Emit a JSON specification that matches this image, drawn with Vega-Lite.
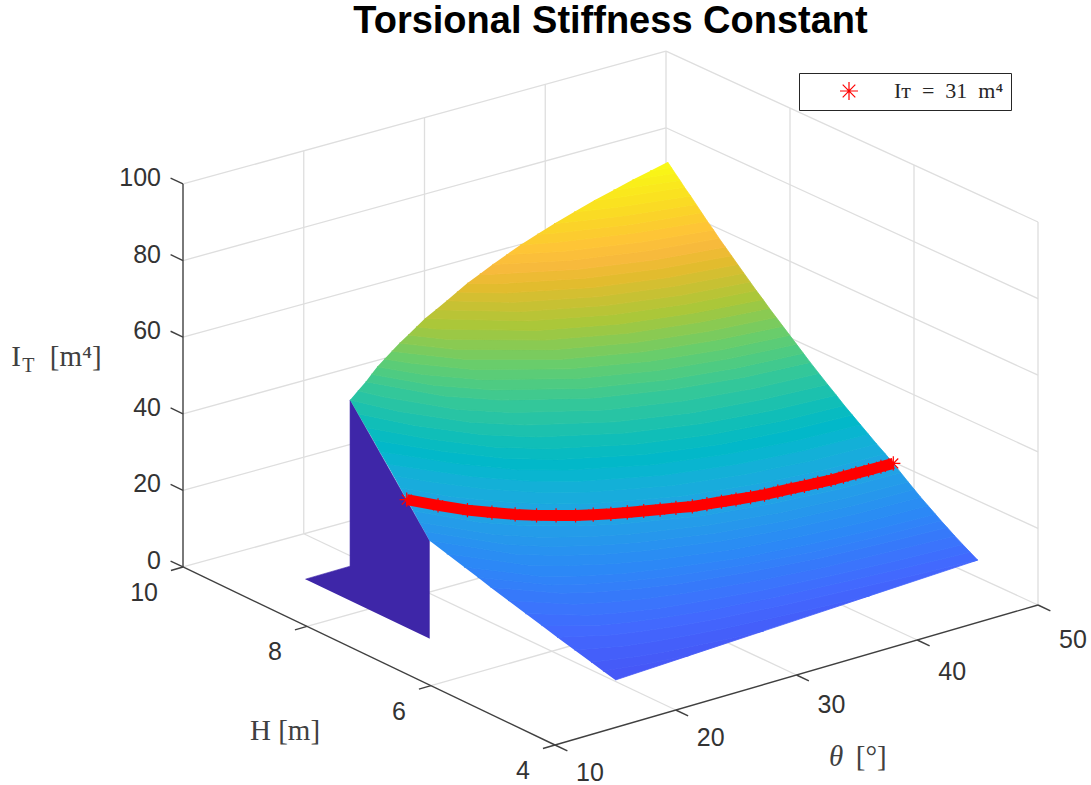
{
"$schema":"https://vega.github.io/schema/vega-lite/v6.json",
"width":1091,"height":785,"padding":0,"autosize":"none","background":"white",
"title":{"text":"Torsional Stiffness Constant","font":"Liberation Sans","fontWeight":"bold","fontSize":38,"color":"#000000","anchor":"middle","frame":"group","offset":0,"dy":71,"dx":65,"baseline":"alphabetic"},
"config":{"view":{"stroke":null}},
"encoding":{
"x":{"field":"sx","type":"quantitative","axis":null,"scale":{"domain":[0,1091],"nice":false,"zero":false}},
"y":{"field":"sy","type":"quantitative","axis":null,"scale":{"domain":[785,0],"nice":false,"zero":false}}
},
"layer":[
{"data":{"values":[
{"t":20,"h":4,"z":0,"t2":20,"h2":10,"z2":0},{"t":30,"h":4,"z":0,"t2":30,"h2":10,"z2":0},{"t":40,"h":4,"z":0,"t2":40,"h2":10,"z2":0},{"t":50,"h":4,"z":0,"t2":50,"h2":10,"z2":0},
{"t":10,"h":6,"z":0,"t2":50,"h2":6,"z2":0},{"t":10,"h":8,"z":0,"t2":50,"h2":8,"z2":0},{"t":10,"h":10,"z":0,"t2":50,"h2":10,"z2":0},
{"t":20,"h":10,"z":0,"t2":20,"h2":10,"z2":100},{"t":30,"h":10,"z":0,"t2":30,"h2":10,"z2":100},{"t":40,"h":10,"z":0,"t2":40,"h2":10,"z2":100},{"t":50,"h":10,"z":0,"t2":50,"h2":10,"z2":100},
{"t":10,"h":10,"z":20,"t2":50,"h2":10,"z2":20},{"t":10,"h":10,"z":40,"t2":50,"h2":10,"z2":40},{"t":10,"h":10,"z":60,"t2":50,"h2":10,"z2":60},{"t":10,"h":10,"z":80,"t2":50,"h2":10,"z2":80},{"t":10,"h":10,"z":100,"t2":50,"h2":10,"z2":100},
{"t":50,"h":4,"z":0,"t2":50,"h2":4,"z2":100},{"t":50,"h":6,"z":0,"t2":50,"h2":6,"z2":100},{"t":50,"h":8,"z":0,"t2":50,"h2":8,"z2":100},
{"t":50,"h":10,"z":20,"t2":50,"h2":4,"z2":20},{"t":50,"h":10,"z":40,"t2":50,"h2":4,"z2":40},{"t":50,"h":10,"z":60,"t2":50,"h2":4,"z2":60},{"t":50,"h":10,"z":80,"t2":50,"h2":4,"z2":80},{"t":50,"h":10,"z":100,"t2":50,"h2":4,"z2":100}
]},
"transform":[
{"calculate":"555+12.075*(datum.t-10)-62*(datum.h-4)","as":"sx"},{"calculate":"745-3.5*(datum.t-10)-29.67*(datum.h-4)-3.83*datum.z+0.03*(datum.t-10)*(datum.h-4)","as":"sy"},
{"calculate":"555+12.075*(datum.t2-10)-62*(datum.h2-4)","as":"sx2"},{"calculate":"745-3.5*(datum.t2-10)-29.67*(datum.h2-4)-3.83*datum.z2+0.03*(datum.t2-10)*(datum.h2-4)","as":"sy2"}],
"mark":{"type":"rule","color":"#dedede","strokeWidth":1.3},
"encoding":{"x2":{"field":"sx2"},"y2":{"field":"sy2"}}},
{"data":{"values":[
{"t":10,"h":10,"z":0,"t2":10,"h2":10,"z2":100},{"t":10,"h":4,"z":0,"t2":10,"h2":10,"z2":0},{"t":10,"h":4,"z":0,"t2":50,"h2":4,"z2":0},
{"t":10,"h":10,"z":0,"t2":10,"h2":10.2,"z2":0},{"t":10,"h":10,"z":20,"t2":10,"h2":10.2,"z2":20},{"t":10,"h":10,"z":40,"t2":10,"h2":10.2,"z2":40},{"t":10,"h":10,"z":60,"t2":10,"h2":10.2,"z2":60},{"t":10,"h":10,"z":80,"t2":10,"h2":10.2,"z2":80},{"t":10,"h":10,"z":100,"t2":10,"h2":10.2,"z2":100},
{"t":10,"h":4,"z":0,"t2":9,"h2":4,"z2":0},{"t":10,"h":6,"z":0,"t2":9,"h2":6,"z2":0},{"t":10,"h":8,"z":0,"t2":9,"h2":8,"z2":0},{"t":10,"h":10,"z":0,"t2":9,"h2":10,"z2":0},
{"t":10,"h":4,"z":0,"t2":10,"h2":3.8,"z2":0},{"t":20,"h":4,"z":0,"t2":20,"h2":3.8,"z2":0},{"t":30,"h":4,"z":0,"t2":30,"h2":3.8,"z2":0},{"t":40,"h":4,"z":0,"t2":40,"h2":3.8,"z2":0},{"t":50,"h":4,"z":0,"t2":50,"h2":3.8,"z2":0}
]},
"transform":[
{"calculate":"555+12.075*(datum.t-10)-62*(datum.h-4)","as":"sx"},{"calculate":"745-3.5*(datum.t-10)-29.67*(datum.h-4)-3.83*datum.z","as":"sy"},
{"calculate":"555+12.075*(datum.t2-10)-62*(datum.h2-4)","as":"sx2"},{"calculate":"745-3.5*(datum.t2-10)-29.67*(datum.h2-4)-3.83*datum.z2","as":"sy2"}],
"mark":{"type":"rule","color":"#404040","strokeWidth":1.4},
"encoding":{"x2":{"field":"sx2"},"y2":{"field":"sy2"}}},
{"data":{"values":[
{"part":"wall","o":1,"t":15,"h":9,"z":0},{"part":"wall","o":2,"t":18.7,"h":9,"z":0},{"part":"wall","o":3,"t":18.7,"h":9,"z":43.4},{"part":"wall","o":4,"t":15,"h":7,"z":25.6},{"part":"wall","o":5,"t":15,"h":7,"z":0}
]},
"transform":[{"calculate":"555+12.075*(datum.t-10)-62*(datum.h-4)","as":"sx"},{"calculate":"745-3.5*(datum.t-10)-29.67*(datum.h-4)-3.83*datum.z","as":"sy"}],
"mark":{"type":"line","fill":"#3e26a8","stroke":"#3e26a8","strokeWidth":0.6},
"encoding":{"detail":{"field":"part"},"order":{"field":"o","type":"quantitative"}}},
{"data":{"values":[
{"k":0,"t":15,"h":4,"z":12.4},
{"k":1,"t":15,"h":4.2,"z":13.2},{"k":1,"t":18,"h":4.08,"z":13.2},{"k":1,"t":20,"h":4.03,"z":13.2},{"k":1,"t":21.15,"h":4,"z":13.2},
{"k":2,"t":15,"h":4.39,"z":14},{"k":2,"t":18,"h":4.23,"z":14},{"k":2,"t":20,"h":4.16,"z":14},{"k":2,"t":22.5,"h":4.1,"z":14},{"k":2,"t":25,"h":4.04,"z":14},{"k":2,"t":27.3,"h":4,"z":14},
{"k":3,"t":15,"h":4.66,"z":15.15},{"k":3,"t":18,"h":4.44,"z":15.15},{"k":3,"t":20,"h":4.35,"z":15.15},{"k":3,"t":22.5,"h":4.27,"z":15.15},{"k":3,"t":25,"h":4.2,"z":15.15},{"k":3,"t":30,"h":4.1,"z":15.15},{"k":3,"t":36.15,"h":4,"z":15.15},
{"k":4,"t":15,"h":4.94,"z":16.3},{"k":4,"t":18,"h":4.66,"z":16.3},{"k":4,"t":20,"h":4.55,"z":16.3},{"k":4,"t":22.5,"h":4.44,"z":16.3},{"k":4,"t":25,"h":4.36,"z":16.3},{"k":4,"t":30,"h":4.24,"z":16.3},{"k":4,"t":35,"h":4.15,"z":16.3},{"k":4,"t":40,"h":4.07,"z":16.3},{"k":4,"t":45,"h":4,"z":16.3},
{"k":5,"t":15,"h":5.19,"z":17.4},{"k":5,"t":18,"h":4.85,"z":17.4},{"k":5,"t":20,"h":4.72,"z":17.4},{"k":5,"t":22.5,"h":4.6,"z":17.4},{"k":5,"t":25,"h":4.5,"z":17.4},{"k":5,"t":30,"h":4.37,"z":17.4},{"k":5,"t":35,"h":4.27,"z":17.4},{"k":5,"t":40,"h":4.19,"z":17.4},{"k":5,"t":45,"h":4.12,"z":17.4},
{"k":6,"t":15,"h":5.45,"z":18.5},{"k":6,"t":18,"h":5.04,"z":18.5},{"k":6,"t":20,"h":4.89,"z":18.5},{"k":6,"t":22.5,"h":4.75,"z":18.5},{"k":6,"t":25,"h":4.65,"z":18.5},{"k":6,"t":30,"h":4.49,"z":18.5},{"k":6,"t":35,"h":4.38,"z":18.5},{"k":6,"t":40,"h":4.3,"z":18.5},{"k":6,"t":45,"h":4.24,"z":18.5},
{"k":7,"t":15,"h":5.73,"z":19.75},{"k":7,"t":18,"h":5.25,"z":19.75},{"k":7,"t":20,"h":5.08,"z":19.75},{"k":7,"t":22.5,"h":4.92,"z":19.75},{"k":7,"t":25,"h":4.8,"z":19.75},{"k":7,"t":30,"h":4.63,"z":19.75},{"k":7,"t":35,"h":4.5,"z":19.75},{"k":7,"t":40,"h":4.43,"z":19.75},{"k":7,"t":45,"h":4.37,"z":19.75},
{"k":8,"t":15,"h":6.01,"z":21},{"k":8,"t":18,"h":5.46,"z":21},{"k":8,"t":20,"h":5.27,"z":21},{"k":8,"t":22.5,"h":5.09,"z":21},{"k":8,"t":25,"h":4.95,"z":21},{"k":8,"t":30,"h":4.76,"z":21},{"k":8,"t":35,"h":4.63,"z":21},{"k":8,"t":40,"h":4.55,"z":21},{"k":8,"t":45,"h":4.49,"z":21},
{"k":9,"t":15,"h":6.22,"z":22},{"k":9,"t":18,"h":5.61,"z":22},{"k":9,"t":20,"h":5.41,"z":22},{"k":9,"t":22.5,"h":5.22,"z":22},{"k":9,"t":25,"h":5.07,"z":22},{"k":9,"t":30,"h":4.86,"z":22},{"k":9,"t":35,"h":4.72,"z":22},{"k":9,"t":40,"h":4.64,"z":22},{"k":9,"t":45,"h":4.59,"z":22},
{"k":10,"t":15,"h":6.44,"z":23},{"k":10,"t":18,"h":5.77,"z":23},{"k":10,"t":20,"h":5.55,"z":23},{"k":10,"t":22.5,"h":5.34,"z":23},{"k":10,"t":25,"h":5.19,"z":23},{"k":10,"t":30,"h":4.96,"z":23},{"k":10,"t":35,"h":4.82,"z":23},{"k":10,"t":40,"h":4.73,"z":23},{"k":10,"t":45,"h":4.68,"z":23},
{"k":11,"t":15,"h":6.72,"z":24.3},{"k":11,"t":18,"h":5.98,"z":24.3},{"k":11,"t":20,"h":5.73,"z":24.3},{"k":11,"t":22.5,"h":5.5,"z":24.3},{"k":11,"t":25,"h":5.33,"z":24.3},{"k":11,"t":30,"h":5.08,"z":24.3},{"k":11,"t":35,"h":4.93,"z":24.3},{"k":11,"t":40,"h":4.84,"z":24.3},{"k":11,"t":45,"h":4.8,"z":24.3},
{"k":12,"t":15,"h":7,"z":25.6},{"k":12,"t":18,"h":6.18,"z":25.6},{"k":12,"t":20,"h":5.9,"z":25.6},{"k":12,"t":22.5,"h":5.65,"z":25.6},{"k":12,"t":25,"h":5.47,"z":25.6},{"k":12,"t":30,"h":5.21,"z":25.6},{"k":12,"t":35,"h":5.05,"z":25.6},{"k":12,"t":40,"h":4.96,"z":25.6},{"k":12,"t":45,"h":4.92,"z":25.6},
{"k":13,"t":15.22,"h":7.12,"z":26.8},{"k":13,"t":18,"h":6.36,"z":26.8},{"k":13,"t":20,"h":6.05,"z":26.8},{"k":13,"t":22.5,"h":5.79,"z":26.8},{"k":13,"t":25,"h":5.6,"z":26.8},{"k":13,"t":30,"h":5.32,"z":26.8},{"k":13,"t":35,"h":5.15,"z":26.8},{"k":13,"t":40,"h":5.06,"z":26.8},{"k":13,"t":45,"h":5.02,"z":26.8},
{"k":14,"t":15.44,"h":7.25,"z":28},{"k":14,"t":18,"h":6.54,"z":28},{"k":14,"t":20,"h":6.21,"z":28},{"k":14,"t":22.5,"h":5.93,"z":28},{"k":14,"t":25,"h":5.72,"z":28},{"k":14,"t":30,"h":5.43,"z":28},{"k":14,"t":35,"h":5.26,"z":28},{"k":14,"t":40,"h":5.16,"z":28},{"k":14,"t":45,"h":5.12,"z":28},
{"k":15,"t":15.72,"h":7.4,"z":29.5},{"k":15,"t":18,"h":6.75,"z":29.5},{"k":15,"t":20,"h":6.4,"z":29.5},{"k":15,"t":22.5,"h":6.1,"z":29.5},{"k":15,"t":25,"h":5.87,"z":29.5},{"k":15,"t":30,"h":5.55,"z":29.5},{"k":15,"t":35,"h":5.37,"z":29.5},{"k":15,"t":40,"h":5.27,"z":29.5},{"k":15,"t":45,"h":5.24,"z":29.5},
{"k":16,"t":16,"h":7.56,"z":31},{"k":16,"t":18,"h":6.97,"z":31},{"k":16,"t":20,"h":6.59,"z":31},{"k":16,"t":22.5,"h":6.26,"z":31},{"k":16,"t":25,"h":6.02,"z":31},{"k":16,"t":30,"h":5.68,"z":31},{"k":16,"t":35,"h":5.49,"z":31},{"k":16,"t":40,"h":5.39,"z":31},{"k":16,"t":45,"h":5.36,"z":31},
{"k":17,"t":16.32,"h":7.73,"z":32.5},{"k":17,"t":18,"h":7.24,"z":32.5},{"k":17,"t":20,"h":6.82,"z":32.5},{"k":17,"t":22.5,"h":6.45,"z":32.5},{"k":17,"t":25,"h":6.19,"z":32.5},{"k":17,"t":30,"h":5.84,"z":32.5},{"k":17,"t":35,"h":5.64,"z":32.5},{"k":17,"t":40,"h":5.53,"z":32.5},{"k":17,"t":45,"h":5.49,"z":32.5},
{"k":18,"t":16.65,"h":7.9,"z":34},{"k":18,"t":18,"h":7.52,"z":34},{"k":18,"t":20,"h":7.06,"z":34},{"k":18,"t":22.5,"h":6.65,"z":34},{"k":18,"t":25,"h":6.37,"z":34},{"k":18,"t":30,"h":6,"z":34},{"k":18,"t":35,"h":5.79,"z":34},{"k":18,"t":40,"h":5.67,"z":34},{"k":18,"t":45,"h":5.63,"z":34},
{"k":19,"t":16.97,"h":8.07,"z":35.5},{"k":19,"t":18,"h":7.79,"z":35.5},{"k":19,"t":20,"h":7.29,"z":35.5},{"k":19,"t":22.5,"h":6.84,"z":35.5},{"k":19,"t":25,"h":6.54,"z":35.5},{"k":19,"t":30,"h":6.15,"z":35.5},{"k":19,"t":35,"h":5.93,"z":35.5},{"k":19,"t":40,"h":5.81,"z":35.5},{"k":19,"t":45,"h":5.76,"z":35.5},
{"k":20,"t":17.3,"h":8.25,"z":37},{"k":20,"t":18,"h":8.07,"z":37},{"k":20,"t":20,"h":7.52,"z":37},{"k":20,"t":22.5,"h":7.03,"z":37},{"k":20,"t":25,"h":6.72,"z":37},{"k":20,"t":30,"h":6.31,"z":37},{"k":20,"t":35,"h":6.08,"z":37},{"k":20,"t":40,"h":5.95,"z":37},{"k":20,"t":45,"h":5.89,"z":37},
{"k":21,"t":17.63,"h":8.42,"z":38.5},{"k":21,"t":18,"h":8.3,"z":38.5},{"k":21,"t":20,"h":7.74,"z":38.5},{"k":21,"t":22.5,"h":7.21,"z":38.5},{"k":21,"t":25,"h":6.88,"z":38.5},{"k":21,"t":30,"h":6.46,"z":38.5},{"k":21,"t":35,"h":6.21,"z":38.5},{"k":21,"t":40,"h":6.08,"z":38.5},{"k":21,"t":45,"h":6.02,"z":38.5},
{"k":22,"t":17.96,"h":8.6,"z":40},{"k":22,"t":20,"h":7.97,"z":40},{"k":22,"t":22.5,"h":7.4,"z":40},{"k":22,"t":25,"h":7.05,"z":40},{"k":22,"t":30,"h":6.61,"z":40},{"k":22,"t":35,"h":6.35,"z":40},{"k":22,"t":40,"h":6.21,"z":40},{"k":22,"t":45,"h":6.15,"z":40},
{"k":23,"t":18.33,"h":8.8,"z":41.7},{"k":23,"t":20,"h":8.21,"z":41.7},{"k":23,"t":22.5,"h":7.6,"z":41.7},{"k":23,"t":25,"h":7.23,"z":41.7},{"k":23,"t":30,"h":6.77,"z":41.7},{"k":23,"t":35,"h":6.5,"z":41.7},{"k":23,"t":40,"h":6.35,"z":41.7},{"k":23,"t":45,"h":6.28,"z":41.7},
{"k":24,"t":18.7,"h":9,"z":43.4},{"k":24,"t":20,"h":8.46,"z":43.4},{"k":24,"t":22.5,"h":7.8,"z":43.4},{"k":24,"t":25,"h":7.41,"z":43.4},{"k":24,"t":30,"h":6.93,"z":43.4},{"k":24,"t":35,"h":6.65,"z":43.4},{"k":24,"t":40,"h":6.5,"z":43.4},{"k":24,"t":45,"h":6.42,"z":43.4},
{"k":25,"t":19.35,"h":9,"z":45.2},{"k":25,"t":20,"h":8.72,"z":45.2},{"k":25,"t":22.5,"h":8,"z":45.2},{"k":25,"t":25,"h":7.6,"z":45.2},{"k":25,"t":30,"h":7.1,"z":45.2},{"k":25,"t":35,"h":6.81,"z":45.2},{"k":25,"t":40,"h":6.64,"z":45.2},{"k":25,"t":45,"h":6.56,"z":45.2},
{"k":26,"t":20,"h":9,"z":47},{"k":26,"t":22.5,"h":8.22,"z":47},{"k":26,"t":25,"h":7.79,"z":47},{"k":26,"t":30,"h":7.27,"z":47},{"k":26,"t":35,"h":6.97,"z":47},{"k":26,"t":40,"h":6.79,"z":47},{"k":26,"t":45,"h":6.7,"z":47},
{"k":27,"t":20.47,"h":9,"z":48.5},{"k":27,"t":22.5,"h":8.39,"z":48.5},{"k":27,"t":25,"h":7.94,"z":48.5},{"k":27,"t":30,"h":7.4,"z":48.5},{"k":27,"t":35,"h":7.09,"z":48.5},{"k":27,"t":40,"h":6.91,"z":48.5},{"k":27,"t":45,"h":6.81,"z":48.5},
{"k":28,"t":20.95,"h":9,"z":50},{"k":28,"t":22.5,"h":8.56,"z":50},{"k":28,"t":25,"h":8.09,"z":50},{"k":28,"t":30,"h":7.54,"z":50},{"k":28,"t":35,"h":7.22,"z":50},{"k":28,"t":40,"h":7.03,"z":50},{"k":28,"t":45,"h":6.92,"z":50},
{"k":29,"t":21.55,"h":9,"z":51.5},{"k":29,"t":22.5,"h":8.74,"z":51.5},{"k":29,"t":25,"h":8.24,"z":51.5},{"k":29,"t":30,"h":7.67,"z":51.5},{"k":29,"t":35,"h":7.34,"z":51.5},{"k":29,"t":40,"h":7.14,"z":51.5},{"k":29,"t":45,"h":7.03,"z":51.5},
{"k":30,"t":22.15,"h":9,"z":53},{"k":30,"t":25,"h":8.39,"z":53},{"k":30,"t":30,"h":7.8,"z":53},{"k":30,"t":35,"h":7.46,"z":53},{"k":30,"t":40,"h":7.26,"z":53},{"k":30,"t":45,"h":7.14,"z":53},
{"k":31,"t":22.8,"h":9,"z":54.5},{"k":31,"t":25,"h":8.53,"z":54.5},{"k":31,"t":30,"h":7.93,"z":54.5},{"k":31,"t":35,"h":7.58,"z":54.5},{"k":31,"t":40,"h":7.37,"z":54.5},{"k":31,"t":45,"h":7.25,"z":54.5},
{"k":32,"t":23.5,"h":9,"z":56},{"k":32,"t":25,"h":8.68,"z":56},{"k":32,"t":30,"h":8.06,"z":56},{"k":32,"t":35,"h":7.7,"z":56},{"k":32,"t":40,"h":7.49,"z":56},{"k":32,"t":45,"h":7.36,"z":56},
{"k":33,"t":24.2,"h":9,"z":57.5},{"k":33,"t":25,"h":8.83,"z":57.5},{"k":33,"t":30,"h":8.19,"z":57.5},{"k":33,"t":35,"h":7.82,"z":57.5},{"k":33,"t":40,"h":7.6,"z":57.5},{"k":33,"t":45,"h":7.46,"z":57.5},
{"k":34,"t":24.9,"h":9,"z":59},{"k":34,"t":30,"h":8.32,"z":59},{"k":34,"t":35,"h":7.94,"z":59},{"k":34,"t":40,"h":7.71,"z":59},{"k":34,"t":45,"h":7.57,"z":59},
{"k":35,"t":25.8,"h":9,"z":60.5},{"k":35,"t":30,"h":8.44,"z":60.5},{"k":35,"t":35,"h":8.05,"z":60.5},{"k":35,"t":40,"h":7.81,"z":60.5},{"k":35,"t":45,"h":7.67,"z":60.5},
{"k":36,"t":26.7,"h":9,"z":62},{"k":36,"t":30,"h":8.56,"z":62},{"k":36,"t":35,"h":8.16,"z":62},{"k":36,"t":40,"h":7.92,"z":62},{"k":36,"t":45,"h":7.77,"z":62},
{"k":37,"t":27.55,"h":9,"z":63.5},{"k":37,"t":30,"h":8.68,"z":63.5},{"k":37,"t":35,"h":8.27,"z":63.5},{"k":37,"t":40,"h":8.02,"z":63.5},{"k":37,"t":45,"h":7.87,"z":63.5},
{"k":38,"t":28.4,"h":9,"z":65},{"k":38,"t":30,"h":8.8,"z":65},{"k":38,"t":35,"h":8.39,"z":65},{"k":38,"t":40,"h":8.13,"z":65},{"k":38,"t":45,"h":7.97,"z":65},
{"k":39,"t":29.45,"h":9,"z":66.5},{"k":39,"t":30,"h":8.92,"z":66.5},{"k":39,"t":35,"h":8.5,"z":66.5},{"k":39,"t":40,"h":8.23,"z":66.5},{"k":39,"t":45,"h":8.07,"z":66.5},
{"k":40,"t":30.5,"h":9,"z":68},{"k":40,"t":35,"h":8.61,"z":68},{"k":40,"t":40,"h":8.34,"z":68},{"k":40,"t":45,"h":8.17,"z":68},
{"k":41,"t":31.65,"h":9,"z":69.5},{"k":41,"t":35,"h":8.72,"z":69.5},{"k":41,"t":40,"h":8.44,"z":69.5},{"k":41,"t":45,"h":8.26,"z":69.5},
{"k":42,"t":32.8,"h":9,"z":71},{"k":42,"t":35,"h":8.83,"z":71},{"k":42,"t":40,"h":8.55,"z":71},{"k":42,"t":45,"h":8.36,"z":71},
{"k":43,"t":34.2,"h":9,"z":72.5},{"k":43,"t":35,"h":8.93,"z":72.5},{"k":43,"t":40,"h":8.64,"z":72.5},{"k":43,"t":45,"h":8.45,"z":72.5},
{"k":44,"t":35.6,"h":9,"z":74},{"k":44,"t":40,"h":8.74,"z":74},{"k":44,"t":45,"h":8.54,"z":74},
{"k":45,"t":37.25,"h":9,"z":75.5},{"k":45,"t":40,"h":8.84,"z":75.5},{"k":45,"t":45,"h":8.63,"z":75.5},
{"k":46,"t":38.9,"h":9,"z":77},{"k":46,"t":40,"h":8.94,"z":77},{"k":46,"t":45,"h":8.73,"z":77},
{"k":47,"t":40.5,"h":9,"z":78.25},{"k":47,"t":45,"h":8.8,"z":78.25},
{"k":48,"t":42.1,"h":9,"z":79.5},{"k":48,"t":45,"h":8.88,"z":79.5},
{"k":49,"t":43.55,"h":9,"z":80.5},{"k":49,"t":45,"h":8.94,"z":80.5},
{"k":50,"t":45,"h":9,"z":81.5}
]},
"transform":[
{"calculate":"[0,1]","as":"side"},{"flatten":["side"]},
{"calculate":"datum.k-datum.side","as":"band"},
{"calculate":"datum.side==0?datum.t:100-datum.t","as":"ord"},
{"joinaggregate":[{"op":"mean","field":"z","as":"c"}],"groupby":["band"]},
{"calculate":"555+12.075*(datum.t-10)-62*(datum.h-4)","as":"sx"},{"calculate":"745-3.5*(datum.t-10)-29.67*(datum.h-4)-3.83*datum.z","as":"sy"}],
"mark":{"type":"line","strokeWidth":0.8},
"encoding":{
"detail":{"field":"band"},
"order":{"field":"ord","type":"quantitative"},
"fill":{"field":"c","type":"quantitative","legend":null,"scale":{"interpolate":"rgb","domain":[0,5.17,11.64,16.82,23.29,31.05,34.93,37.52,40.1,46.57,51.75,58.21,64.68,67.27,69.86,73.74,81.5],"range":["#3e26a8","#4537d5","#4752f4","#4269fe","#2d87f7","#20a5e3","#12b1d6","#01b8ca","#0bbdbc","#37c897","#64cd6f","#abc739","#e6bb2d","#f8ba3d","#fec338","#fad626","#f9fb14"]}},
"stroke":{"field":"c","type":"quantitative","legend":null,"scale":{"interpolate":"rgb","domain":[0,5.17,11.64,16.82,23.29,31.05,34.93,37.52,40.1,46.57,51.75,58.21,64.68,67.27,69.86,73.74,81.5],"range":["#3e26a8","#4537d5","#4752f4","#4269fe","#2d87f7","#20a5e3","#12b1d6","#01b8ca","#0bbdbc","#37c897","#64cd6f","#abc739","#e6bb2d","#f8ba3d","#fec338","#fad626","#f9fb14"]}}
}},
{"data":{"name":"red","values":[
{"s":"Iᴛ\u00a0\u00a0=\u00a0\u00a031\u00a0\u00a0m⁴","t":16,"h":7.56,"z":31},{"s":"Iᴛ\u00a0\u00a0=\u00a0\u00a031\u00a0\u00a0m⁴","t":17,"h":7.25,"z":31},{"s":"Iᴛ\u00a0\u00a0=\u00a0\u00a031\u00a0\u00a0m⁴","t":18,"h":6.97,"z":31},{"s":"Iᴛ\u00a0\u00a0=\u00a0\u00a031\u00a0\u00a0m⁴","t":19,"h":6.77,"z":31},{"s":"Iᴛ\u00a0\u00a0=\u00a0\u00a031\u00a0\u00a0m⁴","t":20,"h":6.59,"z":31},{"s":"Iᴛ\u00a0\u00a0=\u00a0\u00a031\u00a0\u00a0m⁴","t":21,"h":6.44,"z":31},{"s":"Iᴛ\u00a0\u00a0=\u00a0\u00a031\u00a0\u00a0m⁴","t":22,"h":6.32,"z":31},{"s":"Iᴛ\u00a0\u00a0=\u00a0\u00a031\u00a0\u00a0m⁴","t":23,"h":6.2,"z":31},{"s":"Iᴛ\u00a0\u00a0=\u00a0\u00a031\u00a0\u00a0m⁴","t":24,"h":6.11,"z":31},{"s":"Iᴛ\u00a0\u00a0=\u00a0\u00a031\u00a0\u00a0m⁴","t":25,"h":6.02,"z":31},{"s":"Iᴛ\u00a0\u00a0=\u00a0\u00a031\u00a0\u00a0m⁴","t":26,"h":5.95,"z":31},{"s":"Iᴛ\u00a0\u00a0=\u00a0\u00a031\u00a0\u00a0m⁴","t":27,"h":5.88,"z":31},{"s":"Iᴛ\u00a0\u00a0=\u00a0\u00a031\u00a0\u00a0m⁴","t":28,"h":5.81,"z":31},{"s":"Iᴛ\u00a0\u00a0=\u00a0\u00a031\u00a0\u00a0m⁴","t":29,"h":5.75,"z":31},{"s":"Iᴛ\u00a0\u00a0=\u00a0\u00a031\u00a0\u00a0m⁴","t":30,"h":5.68,"z":31},{"s":"Iᴛ\u00a0\u00a0=\u00a0\u00a031\u00a0\u00a0m⁴","t":31,"h":5.64,"z":31},{"s":"Iᴛ\u00a0\u00a0=\u00a0\u00a031\u00a0\u00a0m⁴","t":32,"h":5.6,"z":31},{"s":"Iᴛ\u00a0\u00a0=\u00a0\u00a031\u00a0\u00a0m⁴","t":33,"h":5.56,"z":31},{"s":"Iᴛ\u00a0\u00a0=\u00a0\u00a031\u00a0\u00a0m⁴","t":34,"h":5.52,"z":31},{"s":"Iᴛ\u00a0\u00a0=\u00a0\u00a031\u00a0\u00a0m⁴","t":35,"h":5.49,"z":31},{"s":"Iᴛ\u00a0\u00a0=\u00a0\u00a031\u00a0\u00a0m⁴","t":36,"h":5.47,"z":31},{"s":"Iᴛ\u00a0\u00a0=\u00a0\u00a031\u00a0\u00a0m⁴","t":37,"h":5.45,"z":31},{"s":"Iᴛ\u00a0\u00a0=\u00a0\u00a031\u00a0\u00a0m⁴","t":38,"h":5.43,"z":31},{"s":"Iᴛ\u00a0\u00a0=\u00a0\u00a031\u00a0\u00a0m⁴","t":39,"h":5.41,"z":31},{"s":"Iᴛ\u00a0\u00a0=\u00a0\u00a031\u00a0\u00a0m⁴","t":40,"h":5.39,"z":31},{"s":"Iᴛ\u00a0\u00a0=\u00a0\u00a031\u00a0\u00a0m⁴","t":41,"h":5.385,"z":31},{"s":"Iᴛ\u00a0\u00a0=\u00a0\u00a031\u00a0\u00a0m⁴","t":42,"h":5.38,"z":31},{"s":"Iᴛ\u00a0\u00a0=\u00a0\u00a031\u00a0\u00a0m⁴","t":43,"h":5.37,"z":31},{"s":"Iᴛ\u00a0\u00a0=\u00a0\u00a031\u00a0\u00a0m⁴","t":44,"h":5.365,"z":31},{"s":"Iᴛ\u00a0\u00a0=\u00a0\u00a031\u00a0\u00a0m⁴","t":45,"h":5.36,"z":31}
]},
"transform":[{"calculate":"555+12.075*(datum.t-10)-62*(datum.h-4)","as":"sx"},{"calculate":"745-3.5*(datum.t-10)-29.67*(datum.h-4)-3.83*datum.z","as":"sy"}],
"mark":{"type":"line","color":"#ff0000","strokeWidth":11},
"encoding":{"order":{"field":"t","type":"quantitative"}}},
{"data":{"name":"red"},
"transform":[{"calculate":"555+12.075*(datum.t-10)-62*(datum.h-4)","as":"sx"},{"calculate":"745-3.5*(datum.t-10)-29.67*(datum.h-4)-3.83*datum.z","as":"sy"}],
"mark":{"type":"point","filled":false,"opacity":1,"size":200,"strokeWidth":1.2,"shape":"M-1,0L1,0M0,-1L0,1M-.7,-.7L.7,.7M-.7,.7L.7,-.7"},
"encoding":{"color":{"field":"s","type":"nominal","scale":{"range":["#ff0000"]},
"legend":{"orient":"none","legendX":799,"legendY":73,"title":null,"fillColor":"#ffffff","strokeColor":"#262626","padding":7,"symbolType":"M-1,0L1,0M0,-1L0,1M-.7,-.7L.7,.7M-.7,.7L.7,-.7","symbolSize":324,"symbolStrokeWidth":1.2,"symbolOffset":32,"labelOffset":34,"labelFont":"Liberation Serif","labelFontSize":22,"labelColor":"#262626","labelLimit":200}}}},
{"data":{"values":[{"l":"0","t":10,"h":10,"z":0},{"l":"20","t":10,"h":10,"z":20},{"l":"40","t":10,"h":10,"z":40},{"l":"60","t":10,"h":10,"z":60},{"l":"80","t":10,"h":10,"z":80},{"l":"100","t":10,"h":10,"z":100}]},
"transform":[{"calculate":"555+12.075*(datum.t-10)-62*(datum.h-4)","as":"sx"},{"calculate":"745-3.5*(datum.t-10)-29.67*(datum.h-4)-3.83*datum.z","as":"sy"}],
"mark":{"type":"text","font":"Liberation Sans","fontSize":25,"color":"#333333","align":"right","baseline":"middle","dx":-22,"dy":-6},
"encoding":{"text":{"field":"l"}}},
{"data":{"values":[{"l":"4","t":10,"h":4,"z":0},{"l":"6","t":10,"h":6,"z":0},{"l":"8","t":10,"h":8,"z":0},{"l":"10","t":10,"h":10,"z":0}]},
"transform":[{"calculate":"555+12.075*(datum.t-10)-62*(datum.h-4)","as":"sx"},{"calculate":"745-3.5*(datum.t-10)-29.67*(datum.h-4)-3.83*datum.z","as":"sy"}],
"mark":{"type":"text","font":"Liberation Sans","fontSize":25,"color":"#333333","align":"right","baseline":"middle","dx":-25,"dy":26},
"encoding":{"text":{"field":"l"}}},
{"data":{"values":[{"l":"10","t":10,"h":4,"z":0},{"l":"20","t":20,"h":4,"z":0},{"l":"30","t":30,"h":4,"z":-0.5},{"l":"40","t":40,"h":4,"z":-1},{"l":"50","t":50,"h":4,"z":-1.8}]},
"transform":[{"calculate":"555+12.075*(datum.t-10)-62*(datum.h-4)","as":"sx"},{"calculate":"745-3.5*(datum.t-10)-29.67*(datum.h-4)-3.83*datum.z","as":"sy"}],
"mark":{"type":"text","font":"Liberation Sans","fontSize":25,"color":"#333333","align":"center","baseline":"middle","dx":35,"dy":28},
"encoding":{"text":{"field":"l"}}},
{"data":{"values":[{"l":"I","t":23.76,"h":15.45,"z":0},{"l":"[m⁴]","t":25.77,"h":15.22,"z":0},{"l":"H [m]","t":-4.22,"h":6.15,"z":0},{"l":"[°]","t":24.23,"h":1.92,"z":0}]},
"transform":[{"calculate":"555+12.075*(datum.t-10)-62*(datum.h-4)","as":"sx"},{"calculate":"745-3.5*(datum.t-10)-29.67*(datum.h-4)-3.83*datum.z","as":"sy"}],
"mark":{"type":"text","font":"Liberation Serif","fontSize":29,"color":"#404040","align":"left","baseline":"middle"},
"encoding":{"text":{"field":"l"}}},
{"data":{"values":[{"l":"T","t":23.56,"h":15.17,"z":0}]},
"transform":[{"calculate":"555+12.075*(datum.t-10)-62*(datum.h-4)","as":"sx"},{"calculate":"745-3.5*(datum.t-10)-29.67*(datum.h-4)-3.83*datum.z","as":"sy"}],
"mark":{"type":"text","font":"Liberation Serif","fontSize":20,"color":"#404040","align":"left","baseline":"middle","dx":-4},
"encoding":{"text":{"field":"l"}}},
{"data":{"values":[{"l":"θ","t":22.84,"h":2.08,"z":0}]},
"transform":[{"calculate":"555+12.075*(datum.t-10)-62*(datum.h-4)","as":"sx"},{"calculate":"745-3.5*(datum.t-10)-29.67*(datum.h-4)-3.83*datum.z","as":"sy"}],
"mark":{"type":"text","font":"Liberation Serif","fontStyle":"italic","fontSize":29,"color":"#404040","align":"left","baseline":"middle"},
"encoding":{"text":{"field":"l"}}}
]
}
